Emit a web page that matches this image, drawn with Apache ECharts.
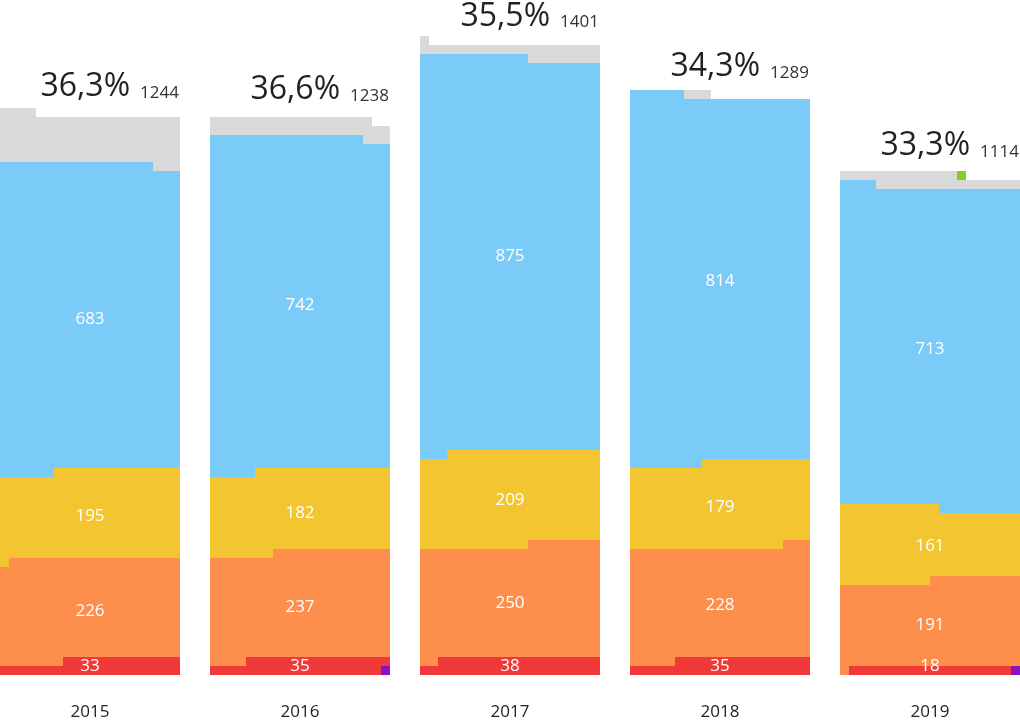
<!DOCTYPE html>
<html>
<head>
<meta charset="utf-8">
<style>
  html, body { margin: 0; padding: 0; background: #fff; }
  #chart { width: 1020px; height: 720px; }
</style>
<script src="https://cdn.jsdelivr.net/npm/echarts@6/dist/echarts.min.js"></script>
</head>
<body>
<div id="chart"></div>
<script>
// data, bottom of the stack first
const years = ['2015', '2016', '2017', '2018', '2019'];
const purple = [0, 1, 0, 0, 1];
const red = [33, 35, 38, 35, 18];
const orange = [226, 237, 250, 248, 191];
const yellow = [195, 182, 209, 189, 161];
const blue = [683, 742, 875, 814, 713];
const grey = [107, 41, 29, 3, 29];
const green = [0, 0, 0, 0, 1];
// numbers printed on the chart (2018 prints other values than it draws)
const orangeShown = [226, 237, 250, 228, 191];
const yellowShown = [195, 182, 209, 179, 161];
const totals = [1244, 1238, 1401, 1289, 1114];
const shares = ['36,3%', '36,6%', '35,5%', '34,3%', '33,3%'];

const FONT = '"Open Sans", Lato, sans-serif';
const perRow = 20;          // cells in one row of a block
// rows at or above this index fill their partial row from the left
const turnRow = [40, 40, 40, 40, 15];

const layers = [
  { values: purple, color: '#8a12c2' },
  { values: red, color: '#f23939', shown: red },
  { values: orange, color: '#fe8e4b', shown: orangeShown },
  { values: yellow, color: '#f2c531', shown: yellowShown },
  { values: blue, color: '#7acbf8', shown: blue },
  { values: grey, color: '#d9d9d9' },
  { values: green, color: '#7ed321' }
];

function cumBefore(li, yi) {
  let s = 0;
  for (let k = 0; k < li; k++) s += layers[k].values[yi];
  return s;
}

// height (in rows) of column c when `count` cells are stacked
function colHeight(count, c, yi) {
  const full = Math.floor(count / perRow);
  const rest = count % perRow;
  const fromLeft = full >= turnRow[yi];
  const extra = fromLeft ? c < rest : c >= perRow - rest;
  return full + (extra ? 1 : 0);
}

const measure = document.createElement('canvas').getContext('2d');
function textWidth(txt, font) {
  measure.font = font;
  return measure.measureText(txt).width;
}

function layerSeries(layer, li) {
  return {
    type: 'custom',
    data: years.map((y, i) => [i, layer.values[i]]),
    renderItem: function (params, api) {
      const yi = api.value(0);
      const below = cumBefore(li, yi);
      const above = below + layer.values[yi];
      if (above === below) return null;
      const cell = api.size([0, 1])[1];
      const x0 = api.coord([yi, 0])[0] - perRow / 2 * cell;
      const pts = [];
      for (let c = 0; c < perRow; c++) {
        const y = api.coord([yi, colHeight(above, c, yi)])[1];
        pts.push([x0 + c * cell, y], [x0 + (c + 1) * cell, y]);
      }
      for (let c = perRow - 1; c >= 0; c--) {
        const y = api.coord([yi, colHeight(below, c, yi)])[1];
        pts.push([x0 + (c + 1) * cell, y], [x0 + c * cell, y]);
      }
      const children = [{
        type: 'polygon',
        shape: { points: pts },
        style: { fill: layer.color }
      }];
      if (layer.shown) {
        const base = api.coord([yi, 0])[1];
        let ly = api.coord([yi, (below + above) / 2 / perRow])[1] + 2;
        ly = Math.min(ly, base - 9);
        children.push({
          type: 'text',
          z2: 10,
          x: api.coord([yi, 0])[0],
          y: ly,
          style: {
            text: String(layer.shown[yi]),
            fill: '#ffffff',
            font: '17px ' + FONT,
            align: 'center',
            verticalAlign: 'middle'
          }
        });
      }
      return { type: 'group', children: children };
    }
  };
}

const topLabels = {
  type: 'custom',
  data: years.map((y, i) => [i, totals[i]]),
  renderItem: function (params, api) {
    const yi = api.value(0);
    const cell = api.size([0, 1])[1];
    const right = api.coord([yi, 0])[0] + perRow / 2 * cell;
    const baseline = api.coord([yi, totals[yi] / perRow])[1] - 16;
    const smallFont = '17px ' + FONT;
    const bigFont = '32px ' + FONT;
    const w = textWidth(String(totals[yi]), smallFont);
    return {
      type: 'group',
      children: [
        {
          type: 'text',
          x: right - 1,
          y: baseline - 6,
          style: { text: String(totals[yi]), fill: '#333', font: smallFont, align: 'right', verticalAlign: 'middle' }
        },
        {
          type: 'text',
          x: right - 2 - w - 9,
          y: baseline - 12,
          style: { text: shares[yi], fill: '#222', font: bigFont, align: 'right', verticalAlign: 'middle' }
        }
      ]
    };
  }
};

const chart = echarts.init(document.getElementById('chart'));
chart.setOption({
  backgroundColor: '#ffffff',
  animation: false,
  grid: { left: -15, right: -15, top: 0, bottom: 45, outerBoundsMode: 'none' },
  xAxis: {
    type: 'category',
    data: years,
    axisLine: { show: false },
    axisTick: { show: false },
    axisLabel: { color: '#222', fontSize: 17, fontFamily: FONT, margin: 29 }
  },
  yAxis: { type: 'value', min: 0, max: 75, show: false },
  series: layers.map(layerSeries).concat([topLabels])
});
</script>
</body>
</html>
